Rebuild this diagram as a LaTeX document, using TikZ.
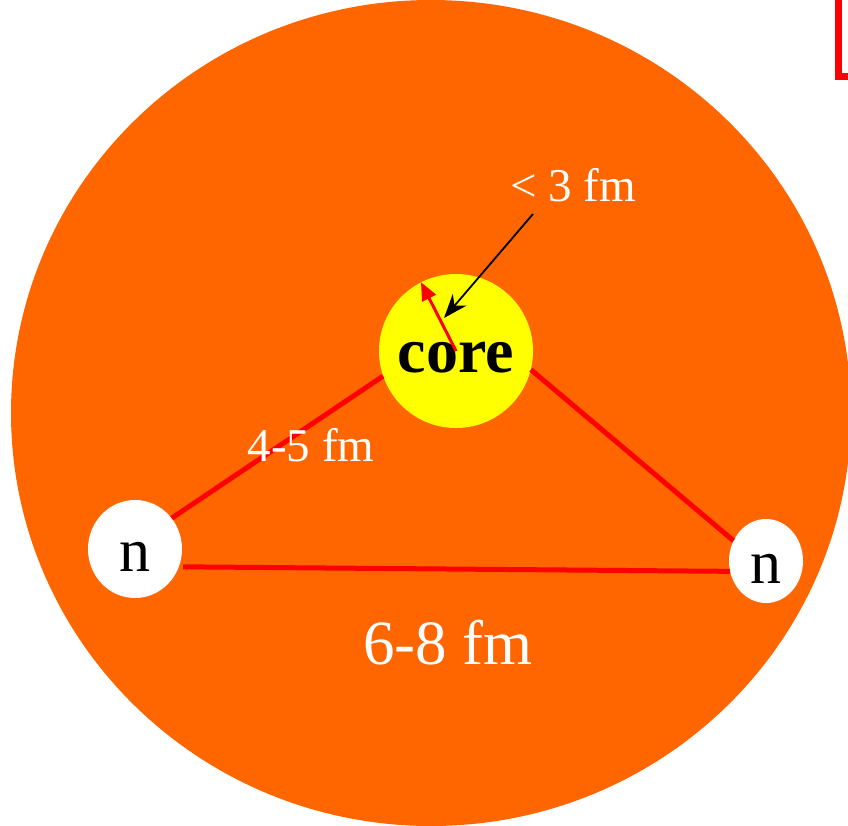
\documentclass[tikz,border=0pt]{standalone}
\usepackage{fontspec}
\setmainfont{Liberation Serif}
\definecolor{halo}{RGB}{255,102,0}
\definecolor{coreyel}{RGB}{255,255,0}
\definecolor{bondred}{RGB}{255,0,0}
\usetikzlibrary{arrows.meta,shapes.geometric}

\begin{document}
\begin{tikzpicture}[x=1pt,y=-1pt,every node/.style={inner sep=0pt},
  ball/.style={ellipse,fill=white,text height=45pt,text depth=0pt,font=\fontsize{62}{62}\selectfont},
  bond/.style={bondred,line width=5pt},
  lbl/.style={text=white}]
  \useasboundingbox (0,0) rectangle (848,825);
  \clip (0,0) rectangle (848,825);
  % halo
  \fill[halo] (431,413) ellipse [x radius=420,y radius=413];
  \draw[bondred,line width=7pt] (838,-10) |- (870,76);
  % core and the two neutrons
  \node[circle,fill=coreyel,minimum size=154pt,text height=43pt,text depth=0pt,
    font=\bfseries\fontsize{64}{64}\selectfont] (core) at (456,351) {core};
  \node[ball,minimum width=94pt,minimum height=98pt] (n1) at (135,549) {n};
  \node[ball,minimum width=74pt,minimum height=84pt] (n2) at (766,561) {n};
  % bonds
  \draw[bond] (core.199) -- (n1.40);
  \draw[bond] (core.-14) -- (n2.148);
  \draw[bond,shorten <=4pt] (n1.-22) -- (n2.196);
  \draw[bondred,line width=3pt,-{Triangle[length=18pt,width=15pt]}] (core.center) -- (core.117);
  % sizes
  \node[lbl,font=\fontsize{47}{47}\selectfont] (rcore) at (573,185) {< 3 fm};
  \coordinate (tip) at (444,318);
  \draw[line width=1.8pt,-{Stealth[length=24pt,width=18pt]}] ([xshift=-40pt,yshift=-12pt]rcore.south) -- (tip);
  \node[lbl,font=\fontsize{47}{47}\selectfont] (rnear) at (311,445) {4-5 fm};
  \node[lbl,font=\fontsize{63}{63}\selectfont] (rfar) at (448,643) {6-8 fm};
\end{tikzpicture}
\end{document}
